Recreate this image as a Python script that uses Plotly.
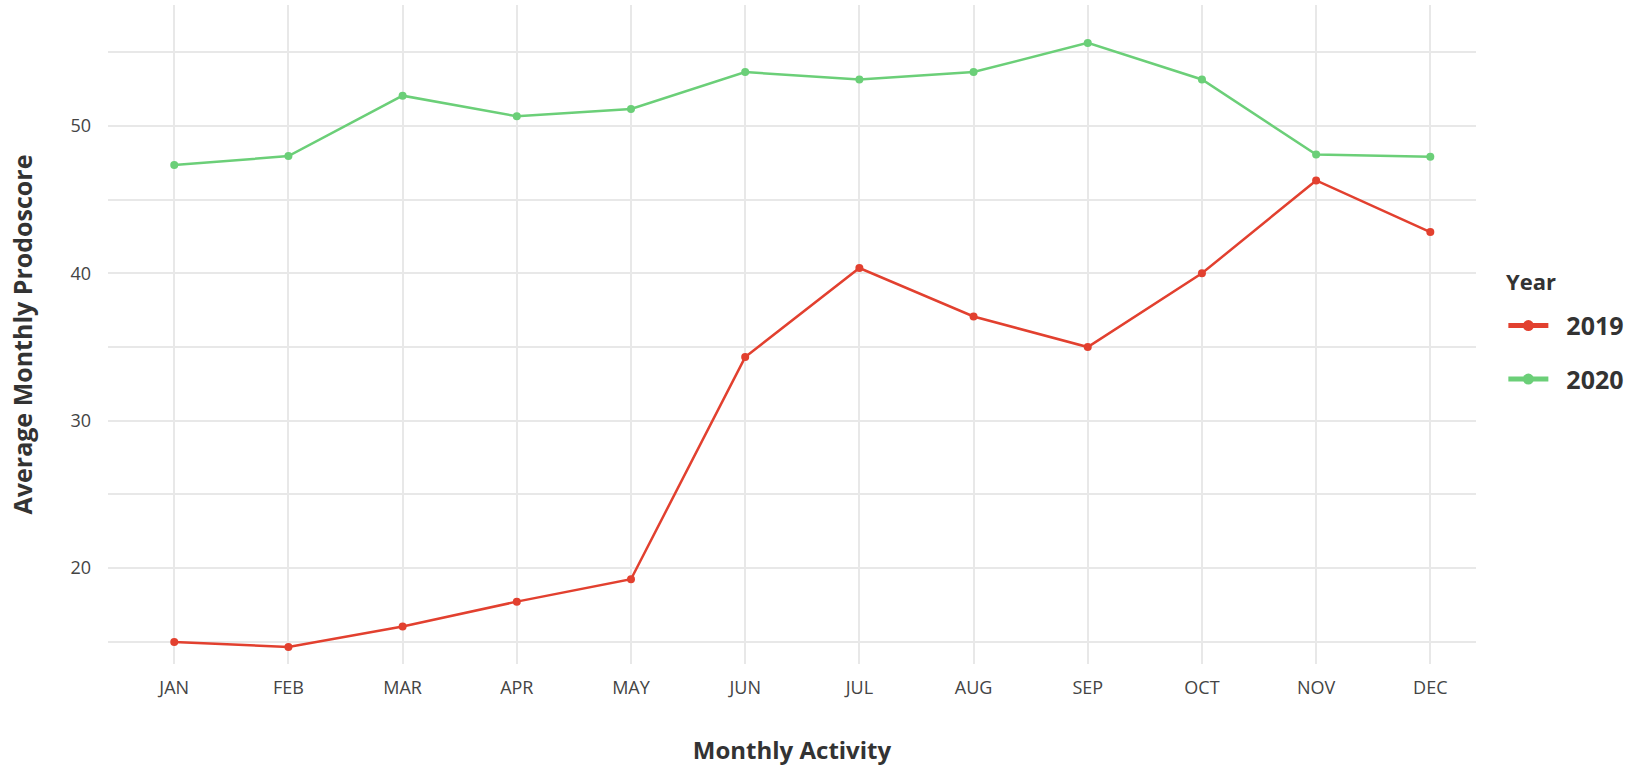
import plotly.graph_objects as go

# data
months = ['JAN', 'FEB', 'MAR', 'APR', 'MAY', 'JUN', 'JUL', 'AUG', 'SEP', 'OCT', 'NOV', 'DEC']
score_2019 = [15.0, 14.66, 16.05, 17.73, 19.25, 34.32, 40.36, 37.07, 35.0, 40.0, 46.3, 42.8]
score_2020 = [47.34, 47.95, 52.05, 50.65, 51.15, 53.65, 53.15, 53.65, 55.63, 53.15, 48.06, 47.9]
years = ['2019', '2020']

RED = '#E2402F'
GREEN = '#6BCF78'
FONT = 'Open Sans'
DARK = '#333333'

fig = go.Figure()

for name, vals, color in [(years[0], score_2019, RED), (years[1], score_2020, GREEN)]:
    fig.add_trace(go.Scatter(
        x=months, y=vals, name=name, mode='lines+markers',
        line=dict(color=color, width=2.5), marker=dict(color=color, size=8),
        showlegend=False,
    ))
    # legend-only entry with a thicker key, like the ggplot legend
    fig.add_trace(go.Scatter(
        x=[None], y=[None], name='\u00a0\u00a0' + name, mode='lines+markers', legendgroup=name,
        line=dict(color=color, width=5), marker=dict(color=color, size=11),
    ))

grid = '#E8E8E8'
fig.update_layout(
    width=1643, height=768,
    paper_bgcolor='white', plot_bgcolor='white',
    margin=dict(l=108, r=167, t=5, b=104),
    font=dict(family=FONT, color='#444444'),
    legend=dict(
        font=dict(size=25, color=DARK, family=FONT, weight='bold'),
        x=1.02, xanchor='left', y=0.548, yanchor='top',
        traceorder='grouped', tracegroupgap=18,
        itemwidth=40,
    ),
    annotations=[dict(
        text='<b>Year</b>', x=1.0205, xref='paper', xanchor='left',
        y=0.555, yref='paper', yanchor='bottom', showarrow=False,
        font=dict(size=22, color=DARK, family=FONT),
    )],
)

fig.update_xaxes(
    title=dict(text='<b>Monthly Activity</b>', font=dict(size=24, color=DARK), standoff=44),
    range=[-0.58, 11.4], showgrid=True, gridcolor=grid, gridwidth=1.5,
    zeroline=False, showline=False, ticks='',
    tickfont=dict(size=18, color='#444444'), ticklabelstandoff=11,
)
fig.update_yaxes(
    title=dict(text='<b>Average Monthly Prodoscore</b>', font=dict(size=25, color=DARK), standoff=30),
    range=[13.5, 58.2], tickvals=[20, 30, 40, 50],
    showgrid=True, gridcolor=grid, gridwidth=1.5,
    minor=dict(tickvals=[15, 25, 35, 45, 55], showgrid=True, gridcolor=grid, gridwidth=1.5),
    zeroline=False, showline=False, ticks='',
    tickfont=dict(size=18, color='#444444'), ticklabelstandoff=16,
)

fig.write_html("out.html", config={'displayModeBar': False},
               post_script="document.body.style.margin='0';")
